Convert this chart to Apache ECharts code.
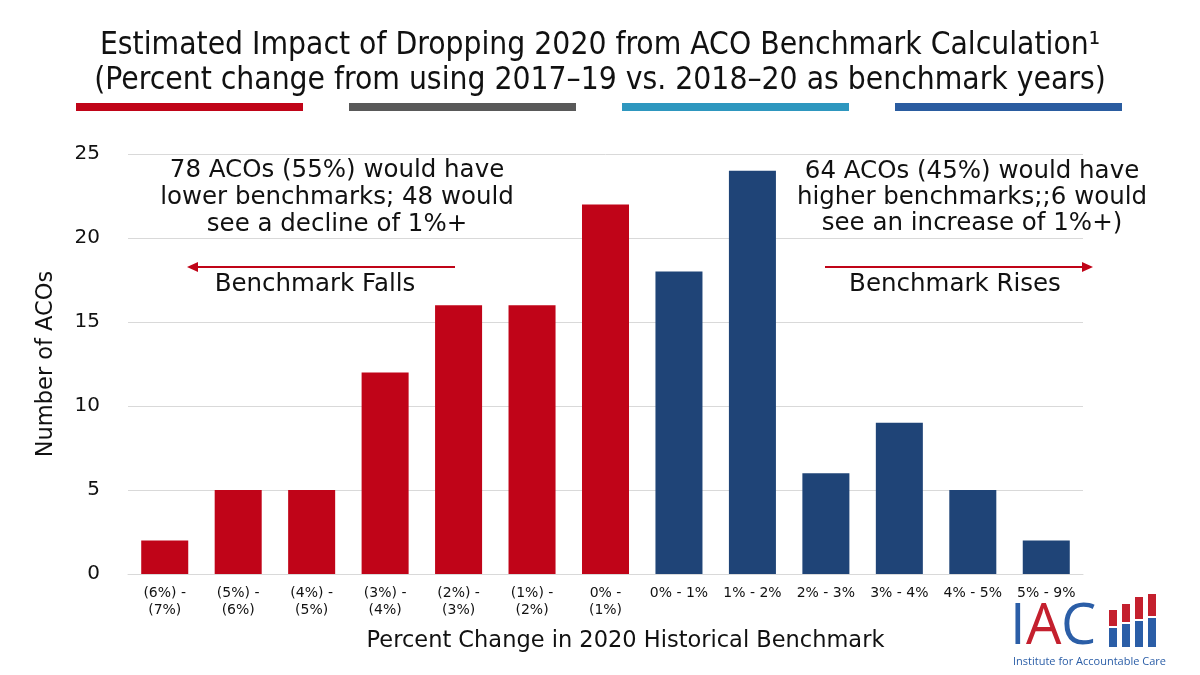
<!DOCTYPE html>
<html><head><meta charset="utf-8">
<script src="https://cdn.jsdelivr.net/npm/echarts@6/dist/echarts.min.js"></script>
<style>html,body{margin:0;padding:0;background:#fff}#c{width:1200px;height:675px}</style>
</head><body><div id="c"></div>
<script>
const categories = ["(6%) -\n(7%)","(5%) -\n(6%)","(4%) -\n(5%)","(3%) -\n(4%)","(2%) -\n(3%)","(1%) -\n(2%)","0% -\n(1%)","0% - 1%","1% - 2%","2% - 3%","3% - 4%","4% - 5%","5% - 9%"];
const counts = [2,5,5,12,16,16,22,18,24,6,9,5,2];
const direction = ["fall","fall","fall","fall","fall","fall","fall","rise","rise","rise","rise","rise","rise"];
const yTicks = [0,5,10,15,20,25];
const titleLines = ["Estimated Impact of Dropping 2020 from ACO Benchmark Calculation\u00B9","(Percent change from using 2017\u201319 vs. 2018\u201320 as benchmark years)"];
const leftNote = "78 ACOs (55%) would have\nlower benchmarks; 48 would\nsee a decline of 1%+";
const rightNote = "64 ACOs (45%) would have\nhigher benchmarks;;6 would\nsee an increase of 1%+)";

const RED = '#C00418', BLUE = '#1F4477';
const chart = echarts.init(document.getElementById('c'), null, {renderer:'canvas'});
const font = 'Verdana, "DejaVu Sans", sans-serif';
const tfont = '31.5px "DejaVu Sans Condensed", sans-serif';
const logoBars = [[1109,610,627],[1122,604,623],[1135,597,620],[1148,594,617]];
const graphics = [
  {type:'text', x:600, y:30, style:{text:titleLines[0], font:tfont, fill:'#111', align:'center'}},
  {type:'text', x:600, y:65, style:{text:titleLines[1], font:tfont, fill:'#111', align:'center'}},
  {type:'rect', shape:{x:76,y:103,width:227,height:8}, style:{fill:'#C00418'}},
  {type:'rect', shape:{x:349,y:103,width:227,height:8}, style:{fill:'#595959'}},
  {type:'rect', shape:{x:622,y:103,width:227,height:8}, style:{fill:'#2E97BF'}},
  {type:'rect', shape:{x:895,y:103,width:227,height:8}, style:{fill:'#2A5CA0'}},
  {type:'text', x:337, y:157, style:{text:leftNote, font:'24.5px '+font, fill:'#111', align:'center', lineHeight:27}},
  {type:'text', x:972, y:159, style:{text:rightNote, font:'24.5px '+font, fill:'#111', align:'center', lineHeight:26}},
  {type:'line', shape:{x1:455,y1:267,x2:195,y2:267}, style:{stroke:RED, lineWidth:2}},
  {type:'polygon', shape:{points:[[187,267],[198,262],[198,272]]}, style:{fill:RED}},
  {type:'text', x:315, y:272, style:{text:'Benchmark Falls', font:'24.5px '+font, fill:'#111', align:'center'}},
  {type:'line', shape:{x1:825,y1:267,x2:1085,y2:267}, style:{stroke:RED, lineWidth:2}},
  {type:'polygon', shape:{points:[[1093,267],[1082,262],[1082,272]]}, style:{fill:RED}},
  {type:'text', x:955, y:272, style:{text:'Benchmark Rises', font:'24.5px '+font, fill:'#111', align:'center'}},
  {type:'text', x:1010, y:600, style:{text:'I', font:'400 56px "Open Sans", sans-serif', fill:'#2B5EA7'}},
  {type:'text', x:1026, y:600, style:{text:'A', font:'400 56px "Open Sans", sans-serif', fill:'#C4202E'}},
  {type:'text', x:1061, y:600, style:{text:'C', font:'400 56px "Open Sans", sans-serif', fill:'#2B5EA7'}},
  {type:'text', x:1013, y:656, style:{text:'Institute for Accountable Care', font:'11px "Open Sans", sans-serif', fill:'#2B5EA7'}}
];
logoBars.forEach(b=>{
  graphics.push({type:'rect', shape:{x:b[0],y:b[1],width:8,height:b[2]-b[1]-1}, style:{fill:'#C4202E'}});
  graphics.push({type:'rect', shape:{x:b[0],y:b[2]+1,width:8,height:647-b[2]-1}, style:{fill:'#2B5EA7'}});
});

chart.setOption({
  animation:false,
  backgroundColor:'#fff',
  grid:{left:128, right:117, top:154, bottom:101, containLabel:false},
  xAxis:{type:'category', data:categories,
    axisLine:{show:true, lineStyle:{color:'#d9d9d9'}}, axisTick:{show:false},
    axisLabel:{interval:0, color:'#111', fontSize:14, fontFamily:font, margin:11, lineHeight:17},
    name:'Percent Change in 2020 Historical Benchmark', nameLocation:'middle', nameGap:56,
    nameTextStyle:{fontSize:22.5, color:'#111', fontFamily:font, padding:[0,0,0,40]}},
  yAxis:{type:'value', min:yTicks[0], max:yTicks[yTicks.length-1], interval:5,
    axisLine:{show:false}, axisTick:{show:false},
    splitLine:{lineStyle:{color:'#d9d9d9'}},
    axisLabel:{color:'#111', fontSize:20, fontFamily:font, margin:28},
    name:'Number of ACOs', nameLocation:'middle', nameGap:70, nameRotate:90,
    nameTextStyle:{fontSize:22.5, color:'#111', fontFamily:font}},
  series:[{type:'bar', barWidth:'64%',
    data:counts.map((v,i)=>({value:v, itemStyle:{color: direction[i]==='fall'?RED:BLUE}}))}],
  graphic:graphics
});
</script></body></html>
